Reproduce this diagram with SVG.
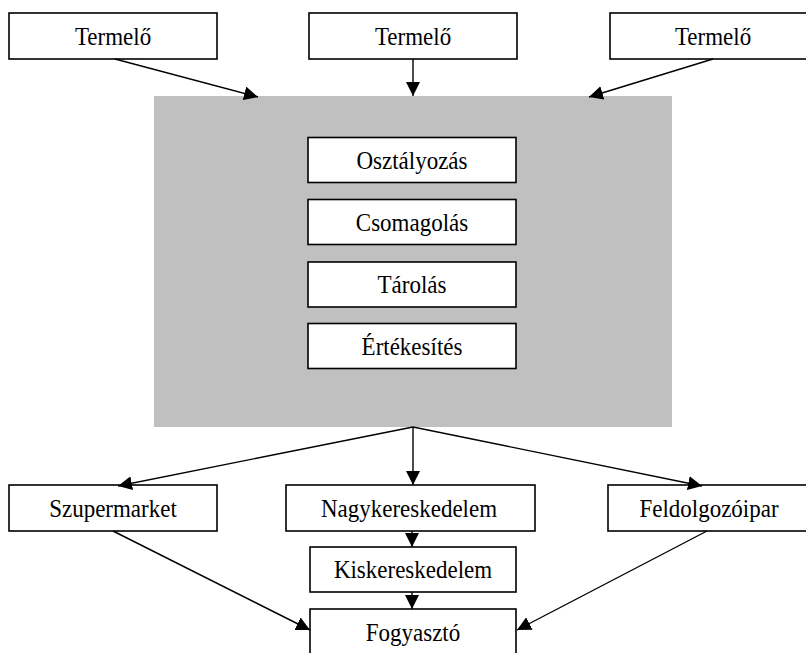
<svg xmlns="http://www.w3.org/2000/svg" width="806" height="653" viewBox="0 0 806 653">
<defs>
<style>
.box{fill:#fff;stroke:#000;stroke-width:1.6}
.lbl{font-family:"Liberation Serif","Times New Roman",serif;font-size:23px;fill:#000;text-anchor:middle}
.con{stroke:#000;stroke-width:1.4;fill:none;marker-end:url(#ah)}
</style>
<marker id="ah" markerUnits="userSpaceOnUse" markerWidth="15" markerHeight="14" refX="14" refY="7" orient="auto">
<path d="M0,0 L14,7 L0,14 z" fill="#000"/>
</marker>
</defs>
<rect width="806" height="653" fill="#fff"/>
<g id="center-area"><rect x="154" y="96" width="518" height="331" fill="#c0c0c0"/></g>
<g id="termelo1"><rect class="box" x="9" y="13" width="208" height="46"/><text class="lbl" transform="translate(113,45) scale(1,1.1)">Termelő</text></g>
<g id="termelo2"><rect class="box" x="309" y="13" width="208" height="46"/><text class="lbl" transform="translate(413,45) scale(1,1.1)">Termelő</text></g>
<g id="termelo3"><rect class="box" x="610" y="13" width="210" height="46"/><text class="lbl" transform="translate(713,45) scale(1,1.1)">Termelő</text></g>
<g id="osztalyozas"><rect class="box" x="308" y="137.5" width="208" height="45"/><text class="lbl" transform="translate(412,169) scale(1,1.1)">Osztályozás</text></g>
<g id="csomagolas"><rect class="box" x="308" y="199.5" width="208" height="45"/><text class="lbl" transform="translate(412,231) scale(1,1.1)">Csomagolás</text></g>
<g id="tarolas"><rect class="box" x="308" y="262" width="208" height="45"/><text class="lbl" transform="translate(412,293) scale(1,1.1)">Tárolás</text></g>
<g id="ertekesites"><rect class="box" x="308" y="323.5" width="208" height="45"/><text class="lbl" transform="translate(412,355) scale(1,1.1)">Értékesítés</text></g>
<g id="szupermarket"><rect class="box" x="9" y="485" width="208" height="46"/><text class="lbl" transform="translate(113,517) scale(1,1.1)">Szupermarket</text></g>
<g id="nagykereskedelem"><rect class="box" x="286" y="485" width="249" height="46"/><text class="lbl" transform="translate(409,517) scale(1,1.1)">Nagykereskedelem</text></g>
<g id="feldolgozoipar"><rect class="box" x="608" y="485" width="212" height="46"/><text class="lbl" transform="translate(709,517) scale(1,1.1)">Feldolgozóipar</text></g>
<g id="kiskereskedelem"><rect class="box" x="310" y="547" width="206" height="45"/><text class="lbl" transform="translate(413,578) scale(1,1.1)">Kiskereskedelem</text></g>
<g id="fogyaszto"><rect class="box" x="310" y="609" width="206" height="50"/><text class="lbl" transform="translate(413,641) scale(1,1.1)">Fogyasztó</text></g>
<g id="connectors">
<line class="con" x1="115" y1="59" x2="258" y2="97"/>
<line class="con" x1="413" y1="59" x2="413" y2="96"/>
<line class="con" x1="713" y1="59" x2="589" y2="97"/>
<line class="con" x1="413" y1="427" x2="118" y2="486"/>
<line class="con" x1="413" y1="427" x2="413" y2="485"/>
<line class="con" x1="413" y1="427" x2="702" y2="486"/>
<line class="con" x1="412" y1="531" x2="412" y2="547"/>
<line class="con" x1="412" y1="592" x2="412" y2="609"/>
<line class="con" x1="113" y1="531" x2="310" y2="630"/>
<line class="con" x1="707" y1="531" x2="517" y2="630"/>
</g>
</svg>
